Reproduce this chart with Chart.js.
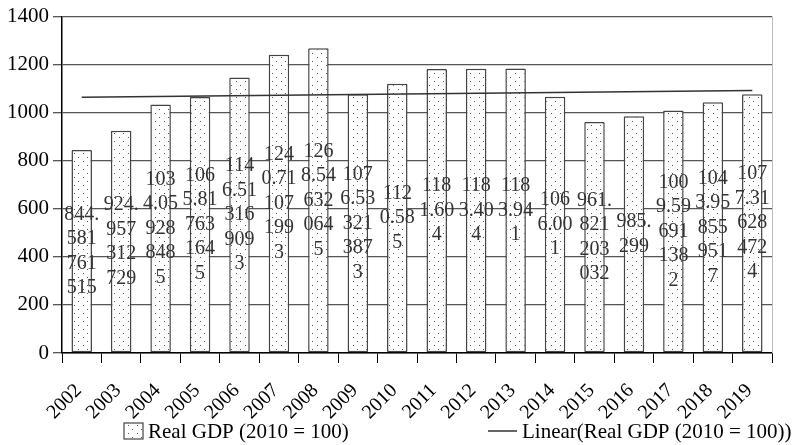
<!DOCTYPE html>
<html>
<head>
<meta charset="utf-8">
<script src="https://cdn.jsdelivr.net/npm/chart.js@4/dist/chart.umd.min.js"></script>
<style>
  body { margin: 0; background: #fff; }
  #wrap { width: 799px; height: 445px; position: relative; }
</style>
</head>
<body>
<div id="wrap"><canvas id="gdpChart"></canvas></div>
<script>
const years   = ['2002','2003','2004','2005','2006','2007','2008','2009','2010',
                 '2011','2012','2013','2014','2015','2016','2017','2018','2019'];
const realGdp = [844.581761515, 924.957312729, 1034.059288485, 1065.817631645,
                 1146.513169093, 1240.711071993, 1268.546320645, 1076.533213873,
                 1120.585, 1181.604, 1183.404, 1183.941, 1066.001, 961.821203032,
                 985.299, 1009.596911382, 1043.958559517, 1077.316284724];
// trend line: first and last year only
const trendStart = 1064.5;
const trendEnd   = 1092.7;
const yTicks     = [0, 200, 400, 600, 800, 1000, 1200, 1400];

const gdpLabel   = 'Real GDP (2010 = 100)';
const trendLabel = 'Linear(Real GDP (2010 = 100))';

const trendData = years.map(function(y, i){
    if (i === 0) return trendStart;
    if (i === years.length - 1) return trendEnd;
    return null;
});

// dotted fill like the printed chart
function dotPattern(){
    const c = document.createElement('canvas');
    c.width = 9; c.height = 8;
    const g = c.getContext('2d');
    g.fillStyle = '#fff';
    g.fillRect(0, 0, 9, 8);
    g.fillStyle = '#555';
    g.fillRect(2, 1, 1, 1);
    g.fillRect(6, 5, 1, 1);
    return g.createPattern(c, 'repeat');
}
const dots = dotPattern();

const SERIF = '"Liberation Serif", "Times New Roman", serif';

function wrapValue(ctx, txt, maxW){
    let lines = [];
    let cur = '';
    for (let ch of txt){
        if (cur !== '' && ctx.measureText(cur + ch).width > maxW){
            lines.push(cur);
            cur = ch;
        } else {
            cur += ch;
        }
    }
    if (cur) lines.push(cur);
    return lines;
}

const valueLabels = {
    id: 'valueLabels',
    afterDatasetsDraw(chart){
        const ctx  = chart.ctx;
        const meta = chart.getDatasetMeta(0);
        ctx.save();
        ctx.font = '20px ' + SERIF;
        ctx.fillStyle = '#333';
        ctx.textAlign = 'center';
        ctx.textBaseline = 'middle';
        const maxW = ctx.measureText('000.').width + 0.5;
        const lh = 24.5;
        meta.data.forEach(function(bar, i){
            const lines = wrapValue(ctx, String(realGdp[i]), maxW);
            const mid = (bar.y + bar.base) / 2;
            let y = mid - (lines.length - 1) * lh / 2;
            lines.forEach(function(l){
                ctx.fillText(l, bar.x, y);
                y += lh;
            });
        });
        ctx.restore();
    }
};

const frameAndLegend = {
    id: 'frameAndLegend',
    afterDraw(chart){
        const ctx = chart.ctx;
        const a = chart.chartArea;
        ctx.save();
        // light right border of the plot
        ctx.strokeStyle = '#bbb';
        ctx.lineWidth = 1;
        ctx.beginPath();
        ctx.moveTo(a.right + 0.5, a.top);
        ctx.lineTo(a.right + 0.5, a.bottom);
        ctx.stroke();

        // legend
        ctx.font = '21px ' + SERIF;
        ctx.fillStyle = '#000';
        ctx.textBaseline = 'middle';
        ctx.textAlign = 'left';
        const ly = 431;
        ctx.fillStyle = dots;
        ctx.fillRect(124, 423, 19, 16);
        ctx.strokeStyle = '#444';
        ctx.lineWidth = 1.2;
        ctx.strokeRect(124, 423, 19, 16);
        ctx.fillStyle = '#000';
        ctx.fillText(gdpLabel, 148, ly + 1);

        ctx.strokeStyle = '#333';
        ctx.lineWidth = 1.5;
        ctx.beginPath();
        ctx.moveTo(488, ly);
        ctx.lineTo(517, ly);
        ctx.stroke();
        ctx.fillText(trendLabel, 522, ly + 1);
        ctx.restore();
    }
};

new Chart(document.getElementById('gdpChart'), {
    type: 'bar',
    data: {
        labels: years,
        datasets: [{
            type: 'bar',
            label: gdpLabel,
            data: realGdp,
            backgroundColor: dots,
            borderColor: '#444',
            borderWidth: 1.5,
            borderSkipped: false,
            borderRadius: 1,
            categoryPercentage: 1,
            barPercentage: 0.52,
            order: 2
        }, {
            type: 'line',
            label: trendLabel,
            data: trendData,
            spanGaps: true,
            borderColor: '#333',
            borderWidth: 1.5,
            pointRadius: 0,
            fill: false,
            order: 1
        }]
    },
    options: {
        responsive: true,
        maintainAspectRatio: false,
        animation: false,
        layout: { padding: { top: 14, right: 27, bottom: 0, left: 0 } },
        plugins: {
            legend: { display: false },
            tooltip: { enabled: false }
        },
        scales: {
            x: {
                offset: true,
                grid: { drawOnChartArea: false, drawTicks: true, tickLength: 10, color: '#000', offset: true },
                border: { color: '#000', width: 1.5 },
                ticks: {
                    color: '#000',
                    font: { family: SERIF, size: 20 },
                    minRotation: 45,
                    maxRotation: 45,
                    autoSkip: false,
                    padding: 16,
                    labelOffset: -3
                },
                afterFit(scale){ scale.height = 92; }
            },
            y: {
                min: 0,
                max: 1400,
                afterBuildTicks(scale){ scale.ticks = yTicks.map(v => ({ value: v })); },
                grid: { color: '#555', lineWidth: 1.3, tickLength: 9 },
                border: { color: '#000', width: 1.5 },
                ticks: {
                    color: '#000',
                    font: { family: SERIF, size: 21 },
                    padding: 4,
                    callback: function(v){ return String(v); }
                },
                afterFit(scale){ scale.width = 62; }
            }
        }
    },
    plugins: [valueLabels, frameAndLegend]
});
</script>
</body>
</html>
